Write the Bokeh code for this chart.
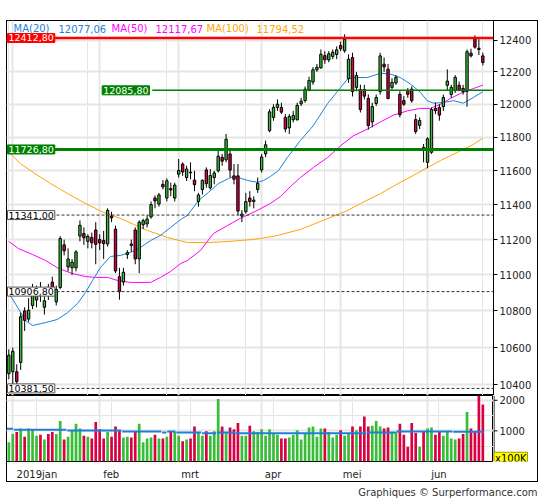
from bokeh.plotting import figure
from bokeh.layouts import column, row
from bokeh.models import (Range1d, FixedTicker, Grid, Label, Span, PrintfTickFormatter,
                          Spacer, ColumnDataSource)
from bokeh.core.properties import value
from bokeh.embed import file_html
from bokeh.resources import INLINE

# ---------------- data ----------------
# trading-day index 0 = 28 Dec 2018 ... 120 = 24 Jun 2019
opens = [10460, 10470, 10470, 10520, 10800, 10755, 10830, 10860, 10930, 10820,
         10920, 10960, 10850, 10930, 11170, 11045, 11040, 11040, 11220, 11235,
         11190, 11212, 11255, 11200, 11195, 11175, 11335, 11260, 10990, 10960,
         11115, 11175, 11255, 11090, 11285, 11290, 11330, 11440, 11405, 11520,
         11440, 11495, 11440, 11580, 11640, 11560, 11592, 11545, 11420, 11490,
         11605, 11500, 11560, 11600, 11680, 11665, 11700, 11570, 11570, 11335,
         11360, 11440, 11420, 11490, 11605, 11700, 11840, 11920, 11981, 11981,
         11920, 11857, 11906, 11906, 12003, 12023, 12090, 12137, 12213, 12225,
         12302, 12275, 12296, 12309, 12365, 12332, 12158, 12290, 12104, 12091,
         12091, 12036, 11893, 12005, 12078, 12248, 12217, 12104, 12131, 12061,
         12023, 12085, 12093, 11907, 11872, 11739, 11650, 11710, 11975, 11981,
         11986, 12117, 12061, 12084, 12117, 12098, 12080, 12317, 12408, 12348,
         12300]
highs = [10590, 10600, 10510, 10790, 10820, 10870, 10950, 10940, 10960, 10880,
         10950, 10990, 10940, 11220, 11200, 11150, 11090, 11140, 11310, 11270,
         11230, 11240, 11300, 11230, 11250, 11380, 11360, 11280, 11040, 11040,
         11140, 11200, 11270, 11310, 11320, 11340, 11420, 11455, 11470, 11545,
         11555, 11530, 11530, 11670, 11650, 11630, 11650, 11600, 11470, 11550,
         11620, 11610, 11600, 11720, 11700, 11820, 11720, 11640, 11640, 11370,
         11470, 11480, 11450, 11560, 11700, 11780, 11970, 12000, 12030, 12010,
         11940, 11940, 11960, 12010, 12040, 12110, 12170, 12230, 12250, 12340,
         12330, 12330, 12340, 12360, 12390, 12436, 12310, 12320, 12200, 12121,
         12120, 12061, 12010, 12060, 12320, 12290, 12250, 12160, 12180, 12080,
         12050, 12100, 12110, 11940, 11920, 11760, 11800, 11980, 12010, 12000,
         12060, 12216, 12120, 12180, 12140, 12120, 12340, 12345, 12430, 12405,
         12320]
lows = [10430, 10395, 10385, 10480, 10690, 10740, 10810, 10820, 10850, 10780,
        10860, 10880, 10830, 10920, 11110, 11020, 11000, 11020, 11190, 11170,
        11150, 11150, 11060, 11140, 11090, 11160, 11300, 11010, 10862, 10940,
        11090, 11130, 11060, 11010, 11260, 11270, 11320, 11380, 11390, 11490,
        11420, 11450, 11420, 11560, 11570, 11540, 11550, 11480, 11390, 11460,
        11500, 11490, 11520, 11590, 11630, 11650, 11560, 11520, 11340, 11300,
        11350, 11390, 11380, 11470, 11590, 11680, 11830, 11900, 11960, 11940,
        11830, 11820, 11890, 11900, 11990, 12010, 12080, 12120, 12200, 12220,
        12250, 12260, 12280, 12280, 12330, 12320, 12132, 12048, 12080, 11950,
        12030, 11846, 11860, 11990, 12060, 12200, 12030, 12090, 12120, 11920,
        11990, 12040, 12010, 11820, 11850, 11650, 11615, 11700, 11940, 11900,
        11960, 12084, 12040, 12070, 12080, 12060, 11985, 12290, 12345, 12305,
        12240]
closes = [10559, 10580, 10417, 10768, 10748, 10804, 10893, 10922, 10887, 10856,
          10892, 10931, 10919, 11206, 11136, 11090, 11072, 11130, 11282, 11210,
          11219, 11182, 11173, 11181, 11177, 11368, 11325, 11022, 10907, 11015,
          11126, 11167, 11090, 11300, 11309, 11318, 11402, 11423, 11458, 11505,
          11541, 11487, 11516, 11602, 11593, 11610, 11588, 11518, 11458, 11543,
          11524, 11572, 11587, 11686, 11657, 11788, 11604, 11550, 11364, 11347,
          11419, 11419, 11428, 11526, 11682, 11755, 11954, 11981, 12001, 11952,
          11850, 11926, 11932, 11993, 12019, 12093, 12147, 12213, 12229, 12310,
          12275, 12313, 12323, 12338, 12345, 12405, 12279, 12078, 12178, 11968,
          12050, 11871, 11986, 12042, 12300, 12231, 12036, 12135, 12166, 11936,
          12000, 12062, 12022, 11834, 11901, 11725, 11791, 11968, 11961, 11934,
          12042, 12143, 12104, 12166, 12088, 12078, 12326, 12300, 12355, 12340,
          12258]
volumes = [630, 900, 960, 1080, 810, 1080, 1030, 840, 870, 720,
           900, 960, 900, 1320, 720, 810, 1020, 1230, 1080, 840,
           810, 750, 1290, 1050, 750, 960, 810, 1140, 1020, 780,
           810, 780, 960, 1230, 630, 750, 780, 870, 750, 750,
           810, 960, 960, 840, 660, 720, 750, 1140, 960, 840,
           990, 840, 990, 2040, 1140, 960, 1110, 1050, 1260, 840,
           840, 1170, 990, 960, 1050, 840, 1050, 930, 870, 750,
           750, 780, 870, 1020, 720, 930, 1110, 1140, 810, 1080,
           1080, 960, 780, 870, 1020, 840, 930, 1140, 1020, 1140,
           1470, 1140, 1170, 1320, 1140, 1080, 1110, 960, 960, 1230,
           870, 480, 1260, 930, 480, 960, 1080, 1110, 870, 960,
           840, 960, 750, 720, 750, 900, 1620, 1080, 990, 2150,
           1860]

ma20_x = [0, 0.85, 4.2, 6.0, 9.3, 12.3, 14.9, 17.4, 19.4, 21.2, 23.2, 25.7, 28.3, 30.8,
          33.3, 35.9, 38.4, 40.9, 43.5, 45.2, 48.0, 50.5, 53.1, 55.6, 56.9, 58.1, 60.4,
          63.0, 64.5, 66.2, 68.3, 70.5, 73.8, 77.1, 80.7, 84.0, 85.7, 87.2, 90.8, 94.1,
          96.6, 99.1, 101.7, 104.2, 105.9, 107.5, 110.0, 112.6, 115.1, 117.6, 120]
ma20_y = [10890, 10869, 10747, 10720, 10736, 10753, 10791, 10841, 10902, 10969, 11042,
          11104, 11110, 11127, 11155, 11195, 11224, 11269, 11315, 11339, 11425, 11472,
          11525, 11554, 11566, 11560, 11543, 11532, 11543, 11566, 11602, 11679, 11780,
          11871, 12005, 12103, 12155, 12165, 12165, 12192, 12186, 12165, 12124, 12073,
          12022, 12007, 12011, 12022, 12007, 12042, 12077.06]
ma50_x = [0, 2.4, 6.0, 9.3, 12.6, 16.1, 19.4, 21.9, 25.0, 27.5, 30.8, 35.9, 38.4, 40.9,
          43.5, 45.2, 48.5, 51.8, 55.4, 58.6, 62.9, 66.2, 68.8, 71.3, 73.8, 77.1, 80.7,
          84.0, 87.2, 90.8, 94.1, 97.4, 100.9, 104.2, 106.7, 109.3, 111.8, 114.3, 117.6, 120]
ma50_y = [11189, 11149, 11115, 11081, 11036, 11008, 10991, 10986, 10986, 10969, 10958,
          10958, 10986, 11019, 11064, 11081, 11138, 11235, 11281, 11322, 11368, 11408,
          11449, 11507, 11560, 11619, 11679, 11749, 11809, 11849, 11893, 11934, 11960,
          11975, 11975, 12001, 12036, 12066, 12097, 12117.67]
ma100_x = [0, 0.85, 2.9, 6.2, 10.5, 14.9, 18.9, 24.0, 28.3, 31.6, 35.1, 40.2, 45.2, 50.3,
           55.4, 61.9, 67.0, 73.8, 78.9, 85.7, 89.0, 94.1, 99.1, 102.4, 106.0, 109.3,
           113.5, 117.6, 120]
ma100_y = [11710, 11691, 11643, 11590, 11525, 11466, 11414, 11356, 11321, 11287, 11252,
           11212, 11183, 11183, 11189, 11201, 11218, 11258, 11304, 11367, 11408, 11466,
           11532, 11572, 11620, 11661, 11709, 11757, 11794.52]

vma_start = [-0.5, 1.3, 14.8, 28.7, 38.8, 40.1, 42.4, 48.9, 52.7, 57.4, 90.7, 98.1, 112.5]
vma_end = [1.1, 14.6, 28.5, 38.6, 39.9, 42.2, 48.7, 52.5, 57.2, 90.5, 97.9, 112.3, 120.2]
vma_val = [1070, 1040, 1010, 980, 950, 980, 950, 920, 950, 920, 950, 980, 970]

month_ticks = [1, 23, 43, 64, 84, 106]
month_labels = ["2019jan", "feb", "mrt", "apr", "mei", "jun"]
price_ticks = [10400, 10600, 10800, 11000, 11200, 11400, 11600, 11800, 12000, 12200, 12400]
vol_ticks = [1000, 2000]
vol_tick_labels = ["1000", "2000"]
vol_unit = "x100K"

levels = [12412.80, 12085.80, 11726.80, 11341.00, 10906.80, 10381.50]
level_texts = ["12412,80", "12085,80", "11726,80", "11341,00", "10906,80", "10381,50"]

legend_texts = ["MA(20)", "12077,06", "MA(50)", "12117,67", "MA(100)", "11794,52"]
footer_text = "Graphiques \u00a9 Surperformance.com"

# ---------------- styles ----------------
GREEN, RED = "#38bd38", "#d90043"
C20, C50, C100 = "#1c82dc", "#ff00ff", "#ffa500"
GRID = "#e6e6e6"
FONT = "DejaVu Sans"
X0, X1 = -0.595, 122.7           # page x 6 .. 493
PX_PER_DAY = 3.95
VMAX = 2156                      # volume at top of volume panel
PLOT_W, SIDE_W = 487, 45

n = len(closes)
idx = list(range(n))
colors = [GREEN if c >= o else RED for o, c in zip(opens, closes)]
src = ColumnDataSource(dict(
    x=idx, h=highs, l=lows,
    top=[max(o, c) for o, c in zip(opens, closes)],
    bot=[min(o, c) for o, c in zip(opens, closes)],
    vol=volumes, color=colors))

xr = Range1d(X0, X1)

# ---------------- price panel ----------------
p1 = figure(width=PLOT_W + SIDE_W, height=375, x_range=xr, y_range=Range1d(10344, 12524),
            y_axis_type="log", y_axis_location="right", x_axis_location=None,
            toolbar_location=None, output_backend="svg",
            min_border_left=0, min_border_right=SIDE_W, min_border_top=0, min_border_bottom=0,
            background_fill_color=None, border_fill_color=None,
            outline_line_color="black", outline_line_width=1)
ax = p1.yaxis[0]
ax.ticker = FixedTicker(ticks=price_ticks)
ax.formatter = PrintfTickFormatter(format="%d")
ax.major_tick_out = 4
ax.major_tick_in = 0
ax.minor_tick_line_color = None
ax.major_label_standoff = 2
ax.major_label_text_font = FONT
ax.major_label_text_font_size = "10px"
ax.major_label_text_color = "#222222"
ax.axis_line_color = "black"
p1.ygrid.ticker = FixedTicker(ticks=price_ticks)
p1.ygrid.grid_line_color = GRID
p1.ygrid.grid_line_width = 2
p1.add_layout(Grid(dimension=0, ticker=FixedTicker(ticks=month_ticks),
                   grid_line_color=GRID, grid_line_width=2))

p1.line(ma100_x, ma100_y, line_color=C100, line_width=1)
p1.line(ma50_x, ma50_y, line_color=C50, line_width=1)
p1.line(ma20_x, ma20_y, line_color=C20, line_width=1)

p1.segment(x0="x", y0="h", x1="x", y1="l", source=src, line_color="black", line_width=1)
p1.vbar(x="x", width=0.6, top="top", bottom="bot", source=src,
        fill_color="color", line_color="black", line_width=1)

# level lines
p1.add_layout(Span(location=levels[0], dimension="width", line_color="#ff0000", line_width=2.5))
p1.segment(x0=[36.3], y0=[levels[1]], x1=[X1], y1=[levels[1]], line_color="#008000", line_width=1.5)
p1.add_layout(Span(location=levels[2], dimension="width", line_color="#008000", line_width=3))
for lv in levels[3:]:
    p1.add_layout(Span(location=lv, dimension="width", line_color="#333333",
                       line_width=1, line_dash="3 2"))

box_x = [X0 + 0.25, 23.63, X0 + 0.25, X0 + 0.25, X0 + 0.25, X0 + 0.25]
box_fill = ["#ff0000", "#008000", "#008000", "white", "white", "white"]
box_line = ["#ff0000", "#008000", "#008000", "#555555", "#555555", "#555555"]
box_text = ["white", "white", "white", "black", "black", "black"]
for lv, t, bx, bf, bl, tc in zip(levels, level_texts, box_x, box_fill, box_line, box_text):
    p1.add_layout(Label(x=bx, y=lv, text=t, text_align="left", text_baseline="middle",
                        text_font=FONT, text_font_size="9.5px", text_color=tc,
                        background_fill_color=bf, border_line_color=bl,
                        border_line_width=1, padding=1))

leg_x = [1.18, 12.57, 25.99, 37.13, 50.04, 62.7]
leg_c = [C20, C20, C50, C50, C100, C100]
for t, lx, lc in zip(legend_texts, leg_x, leg_c):
    p1.add_layout(Label(x=lx, y=12473, text=t, text_align="left", text_baseline="middle",
                        text_font=FONT, text_font_size="10px", text_color=lc))

# ---------------- volume panel ----------------
vyr = Range1d(0, VMAX)
p2 = figure(width=PLOT_W, height=87, x_range=xr, y_range=vyr,
            y_axis_location=None, x_axis_location="below",
            toolbar_location=None, output_backend="svg",
            min_border_left=0, min_border_right=0, min_border_top=0, min_border_bottom=15,
            background_fill_color=None, border_fill_color=None,
            outline_line_color="black", outline_line_width=1)
# month names sit just right of each month's first trading day
label_pos = [round(m + (2 + 3.15 * len(lab)) / PX_PER_DAY, 1)
             for m, lab in zip(month_ticks, month_labels)]
xax = p2.xaxis[0]
xax.ticker = FixedTicker(ticks=label_pos)
xax.major_label_overrides = {pos: lab for pos, lab in zip(label_pos, month_labels)}
xax.major_label_standoff = 1
xax.major_label_text_font = FONT
xax.major_label_text_font_size = "10px"
xax.major_label_text_color = "#222222"
xax.axis_line_color = None
xax.major_tick_line_color = None
xax.minor_tick_line_color = None
p2.add_layout(Grid(dimension=0, ticker=FixedTicker(ticks=month_ticks),
                   grid_line_color=GRID, grid_line_width=2))
p2.add_layout(Grid(dimension=1, ticker=FixedTicker(ticks=vol_ticks),
                   grid_line_color=GRID, grid_line_width=2))

p2.vbar(x="x", width=0.68, top="vol", bottom=0, source=src, fill_color="color", line_color=None)
p2.segment(x0=vma_start, y0=vma_val, x1=vma_end, y1=vma_val, line_color="#1c7fd8", line_width=2)

# right strip of the volume panel: scale ticks, labels and unit box
p2s = figure(width=SIDE_W, height=87, x_range=Range1d(0, SIDE_W), y_range=vyr,
             x_axis_location=None, y_axis_location=None, toolbar_location=None,
             output_backend="svg", min_border_left=0, min_border_right=0,
             min_border_top=0, min_border_bottom=15, background_fill_color=None,
             border_fill_color=None, outline_line_color=None)
p2s.grid.visible = False
p2s.segment(x0=[0.5], y0=[0], x1=[0.5], y1=[VMAX], line_color="black", line_width=1)
p2s.segment(x0=[0] * len(vol_ticks), y0=vol_ticks, x1=[4] * len(vol_ticks), y1=vol_ticks,
            line_color="black", line_width=1)
p2s.text(x=[6] * len(vol_ticks), y=vol_ticks, text=vol_tick_labels, text_align="left",
         text_baseline="middle", text_font=value(FONT), text_font_size="10px",
         text_color="#222222")
p2s.add_layout(Label(x=0.5, y=90, text=vol_unit, text_align="left", text_baseline="middle",
                     text_font=FONT, text_font_size="10px", text_color="black",
                     background_fill_color="#ffff00", border_line_color="#999900",
                     border_line_width=1, padding=1))

# ---------------- footer ----------------
p3 = figure(width=PLOT_W + SIDE_W + 6, height=18, x_range=Range1d(0, PLOT_W + SIDE_W + 6),
            y_range=Range1d(0, 18),
            x_axis_location=None, y_axis_location=None, toolbar_location=None,
            output_backend="svg", min_border=0, background_fill_color=None,
            border_fill_color=None, outline_line_color=None)
p3.grid.visible = False
p3.add_layout(Label(x=PLOT_W + SIDE_W + 5, y=8, text=footer_text, text_align="right",
                    text_baseline="middle", text_font=FONT, text_font_size="10px",
                    text_color="#333333"))

frame = column(p1, row(p2, p2s), styles={"outline": "1px solid #000000", "outline-offset": "-1px"})
main = row(Spacer(width=6, height=462), frame)
layout = column(Spacer(width=PLOT_W + SIDE_W + 6, height=20), main, p3)

open("out.html", "w").write(file_html(layout, INLINE))
